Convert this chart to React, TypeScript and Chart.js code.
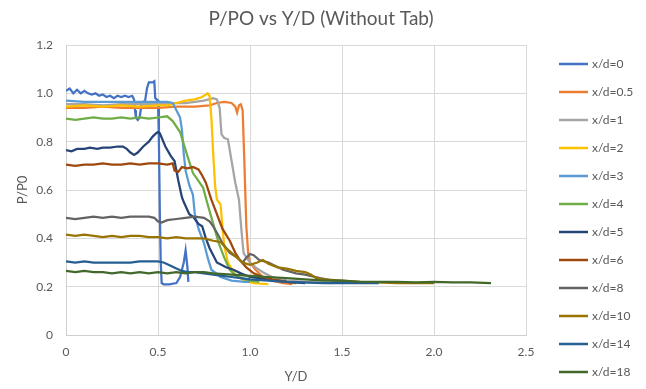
import React, { useEffect, useRef } from "react";
import { Chart, registerables } from "chart.js";

Chart.register(...registerables);

const chartTitle = "P/PO vs Y/D (Without Tab)";
const xTitle = "Y/D";
const yTitle = "P/P0";
const xMin = 0, xMax = 2.5, xStep = 0.5;
const yMin = 0, yMax = 1.2, yStep = 0.2;

const seriesNames = ["x/d=0", "x/d=0.5", "x/d=1", "x/d=2", "x/d=3", "x/d=4", "x/d=5", "x/d=6", "x/d=8", "x/d=10", "x/d=14", "x/d=18"];
const seriesColors = ["#4472C4", "#ED7D31", "#A5A5A5", "#FFC000", "#5B9BD5", "#70AD47", "#264478", "#9E480E", "#636363", "#997300", "#255E91", "#43682B"];

// [Y/D, P/P0]
const xd0 = [[0,1.01],[0.02,1.02],[0.04,1.0],[0.06,1.015],[0.08,1.0],[0.1,1.01],[0.12,1.0],[0.14,0.995],[0.16,1.0],[0.18,0.99],[0.2,0.995],[0.22,0.985],[0.24,0.99],[0.26,0.98],[0.28,0.99],[0.3,0.985],[0.32,0.99],[0.34,0.985],[0.36,0.99],[0.37,0.975],[0.375,0.93],[0.38,0.9],[0.39,0.89],[0.4,0.9],[0.41,0.95],[0.42,0.965],[0.43,0.97],[0.44,1.02],[0.45,1.045],[0.47,1.045],[0.48,1.05],[0.485,0.98],[0.5,0.97],[0.505,0.8],[0.51,0.5],[0.515,0.3],[0.52,0.215],[0.53,0.21],[0.56,0.21],[0.6,0.215],[0.62,0.24],[0.63,0.27],[0.64,0.3],[0.65,0.35],[0.66,0.28],[0.665,0.22]];
const xd05 = [[0,0.94],[0.1,0.94],[0.2,0.945],[0.3,0.94],[0.4,0.94],[0.5,0.94],[0.6,0.945],[0.7,0.945],[0.78,0.95],[0.82,0.96],[0.86,0.965],[0.9,0.96],[0.92,0.945],[0.93,0.92],[0.94,0.95],[0.95,0.955],[0.96,0.93],[0.97,0.7],[0.98,0.45],[0.99,0.34],[1.0,0.3],[1.03,0.27],[1.07,0.24],[1.12,0.225],[1.18,0.215],[1.23,0.21]];
const xd1 = [[0,0.955],[0.1,0.955],[0.2,0.95],[0.3,0.955],[0.4,0.955],[0.5,0.955],[0.55,0.955],[0.6,0.96],[0.65,0.96],[0.7,0.965],[0.75,0.97],[0.8,0.98],[0.82,0.975],[0.835,0.94],[0.845,0.83],[0.86,0.815],[0.88,0.81],[0.9,0.72],[0.92,0.63],[0.94,0.56],[0.955,0.42],[0.965,0.34],[0.98,0.32],[1.0,0.3],[1.03,0.28],[1.07,0.26],[1.12,0.24],[1.2,0.225],[1.3,0.22],[1.45,0.215]];
const xd2 = [[0,0.945],[0.1,0.95],[0.2,0.945],[0.3,0.95],[0.4,0.945],[0.5,0.95],[0.55,0.95],[0.6,0.96],[0.65,0.97],[0.7,0.975],[0.74,0.985],[0.77,1.0],[0.78,0.99],[0.79,0.9],[0.8,0.75],[0.81,0.62],[0.82,0.56],[0.84,0.54],[0.85,0.45],[0.86,0.37],[0.88,0.3],[0.92,0.25],[0.97,0.225],[1.02,0.215],[1.1,0.21]];
const xd3 = [[0,0.97],[0.1,0.965],[0.2,0.965],[0.3,0.965],[0.4,0.965],[0.5,0.965],[0.55,0.965],[0.58,0.96],[0.6,0.93],[0.62,0.9],[0.63,0.85],[0.64,0.75],[0.65,0.68],[0.67,0.62],[0.69,0.58],[0.7,0.5],[0.72,0.44],[0.75,0.38],[0.77,0.32],[0.79,0.27],[0.84,0.24],[0.9,0.225],[0.97,0.22],[1.0,0.22]];
const xd4 = [[0,0.895],[0.05,0.89],[0.1,0.895],[0.15,0.9],[0.2,0.895],[0.25,0.895],[0.3,0.9],[0.35,0.895],[0.4,0.9],[0.45,0.895],[0.5,0.9],[0.55,0.905],[0.58,0.885],[0.62,0.84],[0.66,0.74],[0.69,0.67],[0.745,0.61],[0.77,0.54],[0.8,0.46],[0.83,0.38],[0.86,0.32],[0.89,0.27],[0.93,0.24],[1.0,0.225],[1.05,0.22]];
const xd5 = [[0,0.765],[0.03,0.76],[0.06,0.77],[0.1,0.77],[0.13,0.775],[0.17,0.77],[0.2,0.775],[0.24,0.775],[0.28,0.78],[0.31,0.78],[0.33,0.77],[0.35,0.755],[0.37,0.745],[0.39,0.755],[0.42,0.78],[0.45,0.8],[0.47,0.82],[0.49,0.835],[0.5,0.84],[0.51,0.835],[0.54,0.78],[0.57,0.74],[0.59,0.72],[0.6,0.68],[0.61,0.64],[0.63,0.57],[0.64,0.55],[0.67,0.5],[0.69,0.49],[0.72,0.46],[0.74,0.45],[0.76,0.4],[0.78,0.36],[0.8,0.33],[0.82,0.3],[0.87,0.28],[0.91,0.27],[0.95,0.255],[1.0,0.24],[1.05,0.235],[1.1,0.23],[1.2,0.22],[1.3,0.215]];
const xd6 = [[0,0.705],[0.05,0.7],[0.1,0.705],[0.15,0.705],[0.2,0.71],[0.25,0.705],[0.3,0.705],[0.35,0.71],[0.4,0.705],[0.45,0.71],[0.5,0.71],[0.55,0.705],[0.58,0.71],[0.59,0.68],[0.61,0.675],[0.63,0.695],[0.66,0.69],[0.69,0.695],[0.72,0.685],[0.74,0.66],[0.76,0.63],[0.79,0.56],[0.82,0.5],[0.85,0.44],[0.89,0.39],[0.92,0.34],[0.945,0.31],[0.98,0.28],[1.02,0.255],[1.07,0.24],[1.12,0.23],[1.2,0.22],[1.25,0.215]];
const xd8 = [[0,0.485],[0.05,0.48],[0.1,0.485],[0.15,0.49],[0.2,0.485],[0.25,0.49],[0.3,0.485],[0.35,0.49],[0.4,0.49],[0.45,0.49],[0.48,0.485],[0.5,0.47],[0.52,0.465],[0.55,0.475],[0.6,0.48],[0.65,0.485],[0.7,0.49],[0.75,0.485],[0.78,0.47],[0.8,0.45],[0.83,0.41],[0.85,0.38],[0.89,0.34],[0.93,0.32],[0.96,0.3],[0.98,0.32],[1.0,0.335],[1.02,0.33],[1.05,0.31],[1.1,0.3],[1.18,0.27],[1.25,0.255],[1.3,0.25],[1.38,0.235],[1.45,0.225],[1.55,0.22]];
const xd10 = [[0,0.415],[0.05,0.41],[0.1,0.415],[0.15,0.41],[0.2,0.405],[0.25,0.41],[0.3,0.405],[0.35,0.41],[0.4,0.41],[0.45,0.405],[0.5,0.405],[0.55,0.4],[0.6,0.405],[0.65,0.4],[0.7,0.4],[0.75,0.4],[0.8,0.39],[0.84,0.385],[0.87,0.36],[0.9,0.34],[0.93,0.32],[0.96,0.3],[1.0,0.29],[1.04,0.3],[1.07,0.31],[1.1,0.295],[1.15,0.28],[1.2,0.275],[1.25,0.265],[1.3,0.26],[1.33,0.25],[1.36,0.235],[1.4,0.23],[1.5,0.225],[1.6,0.22],[1.8,0.215],[2.0,0.215]];
const xd14 = [[0,0.305],[0.05,0.3],[0.1,0.305],[0.15,0.3],[0.2,0.3],[0.25,0.3],[0.3,0.3],[0.35,0.3],[0.4,0.305],[0.45,0.305],[0.5,0.305],[0.53,0.3],[0.56,0.29],[0.6,0.275],[0.63,0.265],[0.66,0.26],[0.7,0.26],[0.75,0.255],[0.8,0.25],[0.85,0.245],[0.9,0.24],[0.95,0.235],[1.0,0.23],[1.1,0.225],[1.2,0.22],[1.4,0.215],[1.7,0.215]];
const xd18 = [[0,0.265],[0.05,0.26],[0.1,0.265],[0.15,0.26],[0.2,0.26],[0.25,0.255],[0.3,0.26],[0.35,0.255],[0.4,0.26],[0.45,0.255],[0.5,0.26],[0.55,0.255],[0.6,0.26],[0.65,0.255],[0.7,0.26],[0.75,0.26],[0.8,0.255],[0.9,0.25],[1.0,0.245],[1.1,0.24],[1.2,0.235],[1.3,0.23],[1.4,0.225],[1.5,0.225],[1.6,0.22],[1.7,0.22],[1.8,0.22],[1.9,0.218],[2.0,0.22],[2.1,0.218],[2.2,0.218],[2.31,0.215]];

const seriesData = [xd0, xd05, xd1, xd2, xd3, xd4, xd5, xd6, xd8, xd10, xd14, xd18];

const FONT = "Lato, 'Open Sans', sans-serif";
const TEXT = "#595959";
const GRID = "#d9d9d9";

const overlay = {
  id: "excelOverlay",
  afterDraw(chart: any) {
    const ctx = chart.ctx;
    ctx.save();
    ctx.fillStyle = TEXT;
    ctx.font = `19px ${FONT}`;
    ctx.textAlign = "center";
    ctx.textBaseline = "middle";
    ctx.fillText(chartTitle, 321, 19);
    ctx.font = `12px ${FONT}`;
    ctx.textAlign = "left";
    chart.data.datasets.forEach((ds: any, i: number) => {
      const y = 64 + i * 28;
      ctx.strokeStyle = ds.borderColor;
      ctx.lineWidth = 2.5;
      ctx.beginPath();
      ctx.moveTo(559, y);
      ctx.lineTo(588, y);
      ctx.stroke();
      ctx.fillStyle = TEXT;
      ctx.fillText(ds.label, 592, y);
    });
    ctx.restore();
  },
};

export default function App() {
  const ref = useRef<HTMLCanvasElement>(null);
  useEffect(() => {
    if (!ref.current) return;
    const chart = new Chart(ref.current, {
      type: "line",
      data: {
        datasets: seriesNames.map((name, i) => ({
          label: name,
          data: seriesData[i].map(([x, y]) => ({ x, y })),
          borderColor: seriesColors[i],
          backgroundColor: seriesColors[i],
          borderWidth: 2.25,
          pointRadius: 0,
          tension: 0,
          fill: false,
          order: seriesNames.length - i,
        })),
      },
      options: {
        responsive: false,
        animation: false,
        devicePixelRatio: 1,
        layout: { padding: { top: 45, right: 120, bottom: 0, left: 0 } },
        plugins: { legend: { display: false }, title: { display: false }, tooltip: { enabled: false } },
        scales: {
          x: {
            type: "linear",
            min: xMin,
            max: xMax,
            afterFit: (s: any) => { s.height = 54; },
            ticks: { stepSize: xStep, color: TEXT, font: { family: FONT, size: 12 }, padding: 10, maxRotation: 0 },
            grid: { color: GRID, drawTicks: false },
            border: { color: "#cfcfcf" },
            title: { display: true, text: xTitle, color: TEXT, font: { family: FONT, size: 13 }, padding: { top: 0, bottom: 4 } },
          },
          y: {
            type: "linear",
            min: yMin,
            max: yMax,
            afterFit: (s: any) => { s.width = 66; },
            ticks: { stepSize: yStep, color: TEXT, font: { family: FONT, size: 12 }, padding: 13 },
            grid: { color: GRID, drawTicks: false },
            border: { color: "#cfcfcf" },
            title: { display: true, text: yTitle, color: TEXT, font: { family: FONT, size: 13 }, padding: { top: 15, bottom: 0 } },
          },
        },
      },
      plugins: [overlay],
    });
    return () => chart.destroy();
  }, []);
  return (
    <div style={{ position: "absolute", left: 0, top: 0, width: 646, height: 389, background: "#fff" }}>
      <canvas ref={ref} width={646} height={389} />
    </div>
  );
}
